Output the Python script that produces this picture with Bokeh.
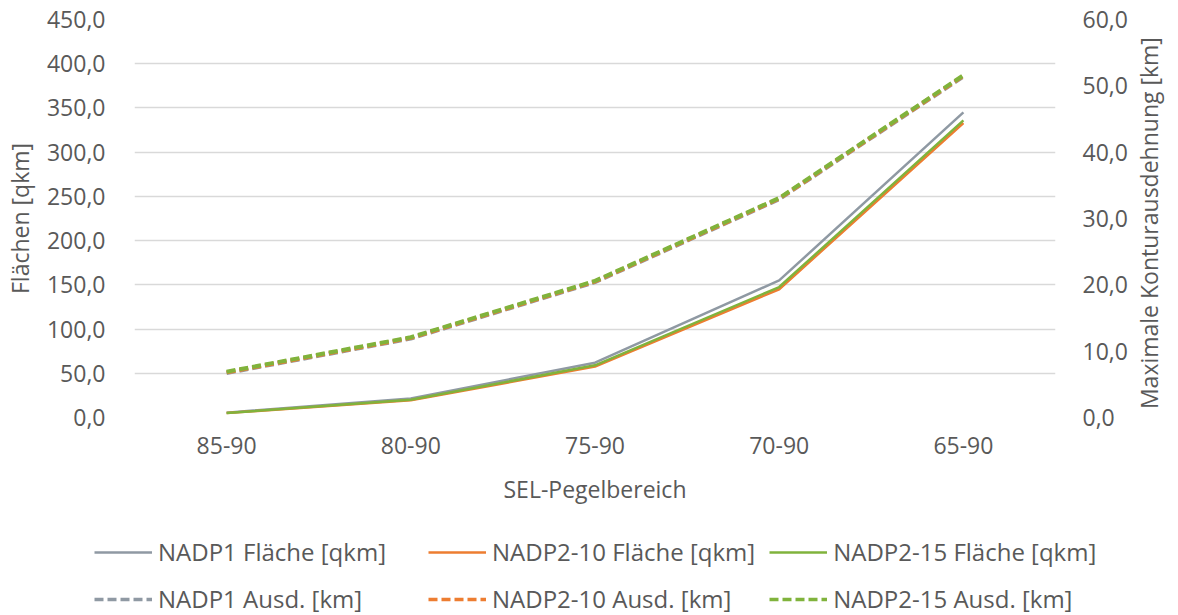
import math
from bokeh.plotting import figure
from bokeh.layouts import column, row
from bokeh.core.properties import value
from bokeh.models import (FactorRange, Range1d, LinearAxis, Legend, LegendItem,
                          CustomJSTickFormatter, FixedTicker, ColumnDataSource)
from bokeh.embed import file_html
from bokeh.resources import INLINE

# ---- data ----
categories = ["85-90", "80-90", "75-90", "70-90", "65-90"]
nadp1_flaeche = [5.5, 21.5, 62.0, 155.0, 345.0]
nadp2_10_flaeche = [5.0, 19.5, 57.5, 145.0, 333.0]
nadp2_15_flaeche = [5.0, 20.0, 59.0, 147.5, 336.0]
nadp1_ausd = [6.7, 11.9, 20.4, 32.9, 51.4]
nadp2_10_ausd = [6.8, 12.0, 20.5, 33.0, 51.5]
nadp2_15_ausd = [6.9, 12.1, 20.6, 33.1, 51.6]
left_ticks = [0, 50, 100, 150, 200, 250, 300, 350, 400, 450]
right_ticks = [0, 10, 20, 30, 40, 50, 60]
series_labels = ["NADP1 Fläche [qkm]", "NADP2-10 Fläche [qkm]", "NADP2-15 Fläche [qkm]",
                 "NADP1 Ausd. [km]", "NADP2-10 Ausd. [km]", "NADP2-15 Ausd. [km]"]
right_title = "Maximale Konturausdehnung [km]"

GRAY = "#8F99A3"
ORANGE = "#ED7D31"
GREEN = "#80B33C"
TXT = "#595959"
FONT = "Open Sans"
colors = [GRAY, ORANGE, GREEN, GRAY, ORANGE, GREEN]
dashes = ["solid", "solid", "solid", "9 4", "9 4", "9 4"]
widths = [2.5, 2.5, 2.5, 4, 4, 4]

p = figure(width=1132, height=520, x_range=FactorRange(*categories),
           y_range=Range1d(0, 450), output_backend="svg", toolbar_location=None,
           min_border_left=132, min_border_right=77, min_border_top=19,
           min_border_bottom=103)
p.extra_y_ranges = {"right": Range1d(0, 60)}
p.outline_line_color = None
p.background_fill_color = "white"

fmt = CustomJSTickFormatter(code="return tick.toFixed(1).replace('.', ',');")

src = ColumnDataSource(dict(x=categories, f1=nadp1_flaeche, f2=nadp2_10_flaeche,
                            f3=nadp2_15_flaeche, a1=nadp1_ausd, a2=nadp2_10_ausd,
                            a3=nadp2_15_ausd))

keys = ["f1", "f2", "f3", "a1", "a2", "a3"]
for i, k in enumerate(keys):
    kw = {} if i < 3 else {"y_range_name": "right"}
    p.line("x", k, source=src, line_color=colors[i], line_width=widths[i],
           line_dash=dashes[i], **kw)

def style_axis(ax):
    ax.axis_line_color = None
    ax.major_tick_line_color = None
    ax.minor_tick_line_color = None
    ax.major_tick_out = 0
    ax.major_tick_in = 0
    ax.major_label_text_font = FONT
    ax.major_label_text_font_size = "23px"
    ax.major_label_text_color = TXT
    ax.axis_label_text_font = FONT
    ax.axis_label_text_font_size = "23px"
    ax.axis_label_text_color = TXT
    ax.axis_label_text_font_style = "normal"

# left axis
la = p.yaxis[0]
style_axis(la)
la.ticker = FixedTicker(ticks=left_ticks)
la.formatter = fmt
la.axis_label = "Flächen [qkm]"
la.major_label_standoff = 29
la.axis_label_standoff = 8

# bottom axis
xa = p.xaxis[0]
style_axis(xa)
xa.axis_label = "SEL-Pegelbereich"
xa.major_label_standoff = 19
xa.axis_label_standoff = 16

# right axis (title drawn in the strip to its right, reading bottom-to-top)
ra = LinearAxis(y_range_name="right", ticker=FixedTicker(ticks=right_ticks),
                formatter=fmt)
style_axis(ra)
ra.major_label_standoff = 27
p.add_layout(ra, "right")

p.xgrid.grid_line_color = None
p.ygrid.grid_line_color = "#D9D9D9"
p.ygrid.grid_line_width = 1.3
p.ygrid.ticker = FixedTicker(ticks=left_ticks)

# ---- right strip with the secondary axis title ----
rp = figure(width=46, height=520, x_range=Range1d(0, 46), y_range=Range1d(0, 520),
            x_axis_type=None, y_axis_type=None, output_backend="svg",
            toolbar_location=None, min_border_left=0, min_border_right=0,
            min_border_top=0, min_border_bottom=0)
rp.grid.visible = False
rp.outline_line_color = None
rp.text(x=[16], y=[254], text=[right_title], angle=math.pi / 2,
        text_align="center", text_baseline="middle", text_font=value(FONT),
        text_font_size=value("23px"), text_color=TXT)

# ---- legend strip below the chart ----
lp = figure(width=1178, height=95, x_range=Range1d(0, 1), y_range=Range1d(0, 1),
            x_axis_type=None, y_axis_type=None, output_backend="svg",
            toolbar_location=None, min_border_left=0, min_border_right=0,
            min_border_top=0, min_border_bottom=0)
lp.grid.visible = False
lp.outline_line_color = None

items = []
for i, lab in enumerate(series_labels):
    r = lp.line(x=[float("nan")], y=[float("nan")], line_color=colors[i],
                line_width=widths[i] if i < 3 else 3.5, line_dash=dashes[i])
    items.append(LegendItem(label=lab, renderers=[r]))

legend = Legend(items=items, orientation="horizontal", ncols=3, location=(94, 0))
legend.label_text_font = FONT
legend.label_text_font_size = "24px"
legend.label_text_color = TXT
legend.glyph_width = 58
legend.glyph_height = 20
legend.label_width = 256
legend.label_height = 30
legend.label_standoff = 6
legend.spacing = 14
legend.padding = 0
legend.margin = 0
legend.border_line_color = None
legend.background_fill_alpha = 0
lp.add_layout(legend, "center")

layout = column(row(p, rp, spacing=0), lp, spacing=0)
open("out.html", "w").write(file_html(layout, INLINE))
